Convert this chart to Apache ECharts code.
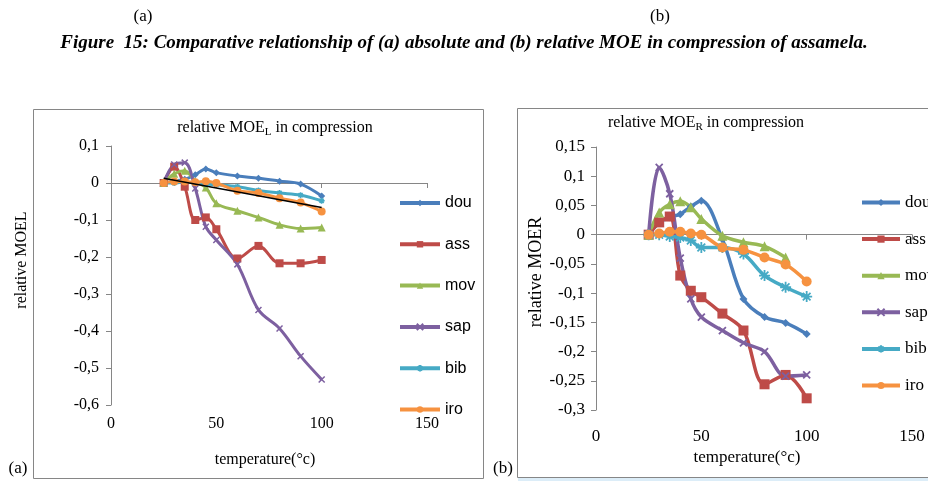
<!DOCTYPE html>
<html>
<head>
<meta charset="utf-8">
<script src="https://cdn.jsdelivr.net/npm/echarts@6/dist/echarts.min.js"></script>
<style>
html,body{margin:0;padding:0;background:#fff;}
#main{width:928px;height:481px;}
</style>
</head>
<body>
<div id="main"></div>
<script>
// ---------- data ----------
var temps = [25, 30, 35, 40, 45, 50, 60, 70, 80, 90, 100];
var seriesNames = ['dou', 'ass', 'mov', 'sap', 'bib', 'iro'];

// (a) relative MOE_L
var douL = [0, 0.005, 0.01, 0.022, 0.038, 0.028, 0.019, 0.013, 0.005, -0.003, -0.035];
var assL = [0, 0.044, -0.01, -0.1, -0.093, -0.125, -0.204, -0.17, -0.217, -0.217, -0.208];
var movL = [0, 0.025, 0.033, 0.005, -0.012, -0.055, -0.075, -0.093, -0.113, -0.123, -0.12];
var sapL = [0, 0.05, 0.055, -0.015, -0.118, -0.154, -0.22, -0.343, -0.393, -0.468, -0.531];
var bibL = [0, 0, 0.003, 0, -0.003, -0.005, -0.01, -0.02, -0.027, -0.033, -0.048];
var iroL = [0, 0.004, 0.004, 0.002, 0.005, 0, -0.021, -0.027, -0.041, -0.053, -0.077];
var trendX = [25, 100];
var trendY = [0.013, -0.066];

// (b) relative MOE_R
var douR = [0, 0.02, 0.03, 0.035, 0.048, 0.058, -0.008, -0.11, -0.141, -0.151, -0.17];
var assR = [0, 0.021, 0.031, -0.07, -0.096, -0.107, -0.135, -0.164, -0.256, -0.24, -0.28];
var movR = [0, 0.038, 0.052, 0.057, 0.047, 0.027, -0.002, -0.013, -0.02, -0.039, null];
var sapR = [0, 0.115, 0.07, -0.04, -0.11, -0.141, -0.164, -0.185, -0.2, -0.242, -0.24];
var bibR = [0, 0, -0.003, -0.005, -0.01, -0.022, -0.022, -0.033, -0.07, -0.09, -0.106];
var iroR = [0, 0.002, 0.005, 0.005, 0.002, 0, -0.022, -0.026, -0.039, -0.051, -0.08];

var xTicks = [0, 50, 100, 150];
var yTicksL = [-0.6, -0.5, -0.4, -0.3, -0.2, -0.1, 0, 0.1];
var yTicksR = [-0.3, -0.25, -0.2, -0.15, -0.1, -0.05, 0, 0.05, 0.1, 0.15];

// ---------- styles ----------
var colors = {dou:'#4a7ebb', ass:'#be4b48', mov:'#98b954', sap:'#7d60a0', bib:'#46aac5', iro:'#f69240'};
var symbols = {
  dou:'diamond', ass:'rect', mov:'triangle',
  sap:'path://M0,0L10,10M10,0L0,10',
  bib:'path://M5,0L5,10M0,5L10,5M1.5,1.5L8.5,8.5M8.5,1.5L1.5,8.5',
  iro:'circle'
};
var dataL = {dou:douL, ass:assL, mov:movL, sap:sapL, bib:bibL, iro:iroL};
var dataR = {dou:douR, ass:assR, mov:movR, sap:sapR, bib:bibR, iro:iroR};
var symSizeL = {dou:7, ass:8, mov:8, sap:6, bib:6, iro:8};
var symSizeR = {dou:8, ass:10, mov:10, sap:7, bib:11, iro:10};

function pairs(xs, ys){
  var out = [];
  for (var i = 0; i < xs.length; i++) { if (ys[i] !== null) out.push([xs[i], ys[i]]); }
  return out;
}
function fmt(v){
  var r = Math.round(v * 100) / 100;
  return String(r).replace('.', ',');
}

var series = [];
seriesNames.forEach(function(n){
  var stroke = (n === 'sap' || n === 'bib');
  series.push({
    name:n, type:'line', xAxisIndex:0, yAxisIndex:0, smooth:0.35,
    data:pairs(temps, dataL[n]), symbol:symbols[n], symbolSize:symSizeL[n],
    showAllSymbol:true,
    lineStyle:{color:colors[n], width:3},
    itemStyle:{color:colors[n], borderColor:colors[n], borderWidth: stroke ? 1.5 : 0},
    emphasis:{disabled:true}, z:3
  });
});
series.push({
  name:'trend', type:'line', xAxisIndex:0, yAxisIndex:0, symbol:'none',
  data:pairs(trendX, trendY), lineStyle:{color:'#000', width:1.5}, z:5,
  emphasis:{disabled:true}
});
seriesNames.forEach(function(n){
  var stroke = (n === 'sap' || n === 'bib');
  series.push({
    name:n, type:'line', xAxisIndex:1, yAxisIndex:1, smooth:0.35,
    data:pairs(temps, dataR[n]), symbol:symbols[n], symbolSize:symSizeR[n],
    showAllSymbol:true,
    lineStyle:{color:colors[n], width:3.5},
    itemStyle:{color:colors[n], borderColor:colors[n], borderWidth: stroke ? 1.8 : 0},
    emphasis:{disabled:true}, z:3
  });
});

var axisLineStyle = {lineStyle:{color:'#868686', width:1}};
var serif = 'Liberation Serif';

var option = {
  animation:false,
  textStyle:{fontFamily:serif},
  grid:[
    {left:111, top:146, width:316, height:259},
    {left:596, top:147, width:316, height:263}
  ],
  xAxis:[
    {type:'value', gridIndex:0, min:0, max:150, interval:50,
     axisLine:axisLineStyle, axisTick:{show:true, length:5, lineStyle:{color:'#868686'}},
     splitLine:{show:false},
     axisLabel:{fontFamily:serif, fontSize:16, color:'#000', margin:11}},
    {type:'value', gridIndex:1, min:0, max:150, interval:50,
     axisLine:axisLineStyle, axisTick:{show:true, length:5, lineStyle:{color:'#868686'}},
     splitLine:{show:false},
     axisLabel:{fontFamily:serif, fontSize:17, color:'#000', margin:18}}
  ],
  yAxis:[
    {type:'value', gridIndex:0, min:-0.6, max:0.1, interval:0.1,
     axisLine:{show:true, lineStyle:{color:'#868686'}},
     axisTick:{show:true, length:5, lineStyle:{color:'#868686'}},
     splitLine:{show:false},
     axisLabel:{fontFamily:serif, fontSize:16, color:'#000', margin:12, formatter:fmt}},
    {type:'value', gridIndex:1, min:-0.3, max:0.15, interval:0.05,
     axisLine:{show:true, lineStyle:{color:'#868686'}},
     axisTick:{show:true, length:5, lineStyle:{color:'#868686'}},
     splitLine:{show:false},
     axisLabel:{fontFamily:serif, fontSize:17, color:'#000', margin:11, formatter:fmt}}
  ],
  legend:[
    {data:seriesNames, orient:'vertical', left:393, top:190, itemWidth:40, itemHeight:8, itemGap:25.3,
     lineStyle:{width:4},
     textStyle:{fontFamily:'Liberation Sans', fontSize:16, color:'#000', lineHeight:14}, selectedMode:false},
    {data:seriesNames, orient:'vertical', left:855, top:189, itemWidth:38, itemHeight:9, itemGap:19.6,
     lineStyle:{width:4},
     textStyle:{fontFamily:serif, fontSize:17, color:'#000', lineHeight:14}, selectedMode:false}
  ],
  graphic:[
    {type:'rect', z:-10, shape:{x:33.5, y:109.5, width:450, height:369}, style:{fill:'#fff', stroke:'#868686', lineWidth:1}},
    {type:'rect', z:-10, shape:{x:517.5, y:108.5, width:420, height:369}, style:{fill:'#fff', stroke:'#868686', lineWidth:1}},
    {type:'rect', z:-10, shape:{x:518, y:478, width:410, height:3}, style:{fill:'#dcedf8'}},
    {type:'text', x:143, y:17, style:{text:'(a)', font:'17px "Liberation Serif"', fill:'#000', align:'center', verticalAlign:'middle'}},
    {type:'text', x:660, y:17, style:{text:'(b)', font:'17px "Liberation Serif"', fill:'#000', align:'center', verticalAlign:'middle'}},
    {type:'text', x:464, y:43, style:{text:'Figure  15: Comparative relationship of (a) absolute and (b) relative MOE in compression of assamela.', font:'italic bold 19px "Liberation Serif"', fill:'#000', align:'center', verticalAlign:'middle'}},
    {type:'text', x:275, y:128, style:{text:'{a|relative MOE}{s|L}{a| in compression}', align:'center', verticalAlign:'middle',
      rich:{a:{fontFamily:serif, fontSize:16, color:'#000'}, s:{fontFamily:serif, fontSize:11, color:'#000', padding:[8,0,0,0]}}}},
    {type:'text', x:706, y:123, style:{text:'{a|relative MOE}{s|R}{a| in compression}', align:'center', verticalAlign:'middle',
      rich:{a:{fontFamily:serif, fontSize:16, color:'#000'}, s:{fontFamily:serif, fontSize:11, color:'#000', padding:[8,0,0,0]}}}},
    {type:'text', x:22, y:260, rotation:Math.PI/2, style:{text:'relative MOEL', font:'16px "Liberation Serif"', fill:'#000', align:'center', verticalAlign:'middle'}},
    {type:'text', x:536, y:272, rotation:Math.PI/2, style:{text:'relative MOER', font:'18px "Liberation Serif"', fill:'#000', align:'center', verticalAlign:'middle'}},
    {type:'text', x:265, y:460, style:{text:'temperature(°c)', font:'16px "Liberation Serif"', fill:'#000', align:'center', verticalAlign:'middle'}},
    {type:'text', x:747, y:458, style:{text:'temperature(°c)', font:'17px "Liberation Serif"', fill:'#000', align:'center', verticalAlign:'middle'}},
    {type:'text', x:18, y:469, style:{text:'(a)', font:'17px "Liberation Serif"', fill:'#000', align:'center', verticalAlign:'middle'}},
    {type:'text', x:503, y:469, style:{text:'(b)', font:'17px "Liberation Serif"', fill:'#000', align:'center', verticalAlign:'middle'}}
  ],
  series:series
};

var chart = echarts.init(document.getElementById('main'), null, {renderer:'canvas'});
chart.setOption(option);
</script>
</body>
</html>
